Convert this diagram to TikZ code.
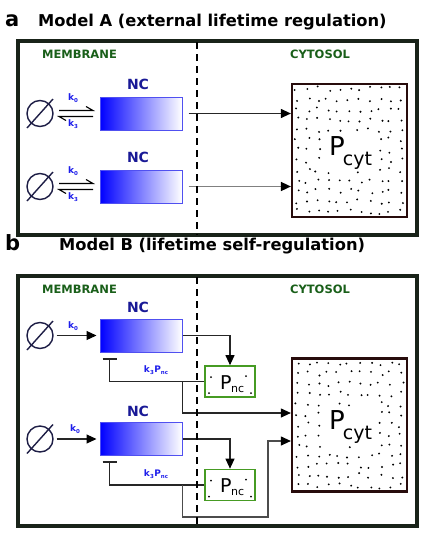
\documentclass[tikz,border=0pt]{standalone}
\usepackage{fontspec}
\setmainfont{DejaVu Sans}
\usetikzlibrary{arrows.meta,calc}
\definecolor{memgreen}{RGB}{25,95,25}
\definecolor{ncnavy}{RGB}{25,25,150}
\definecolor{ncedge}{RGB}{80,80,240}
\definecolor{kblue}{RGB}{30,30,235}
\definecolor{esetcol}{RGB}{30,30,70}
\definecolor{pncgreen}{RGB}{70,155,35}
\definecolor{pcytedge}{RGB}{40,12,12}
\definecolor{framecol}{RGB}{25,35,25}
\newcommand\ksub[2]{\textbf{#1}\raisebox{-0.45ex}{\fontsize{5.5}{5.5}\selectfont\bfseries #2}}
\newcommand\dotfield[3]{%
  \pgfmathsetseed{#3}%
  \foreach \i in {0,...,10}{%
    \foreach \j in {0,...,12}{%
      \pgfmathsetmacro\dx{5+\i*10.4+2.6*rand}%
      \pgfmathsetmacro\dy{5+\j*10.2+2.6*rand}%
      \pgfmathtruncatemacro\skipit{(\dx>34)*(\dx<82)*(\dy>47)*(\dy<88)}%
      \ifnum\skipit=0 \fill[black] (#1+\dx,#2+\dy) circle (1.05pt);\fi
    }}}
\tikzset{
  frame/.style={draw=framecol, line width=3.4pt},
  divider/.style={draw=black, line width=1.8pt, dash pattern=on 7pt off 5pt},
  region/.style={text=memgreen, font=\bfseries\fontsize{11.5}{11.5}\selectfont, inner sep=0},
  title/.style={anchor=base west, inner sep=0, font=\bfseries\fontsize{16.3}{16.3}\selectfont},
  panel/.style={anchor=base west, inner sep=0, font=\bfseries\fontsize{21}{21}\selectfont},
  ncbox/.style={draw=ncedge, line width=1pt, left color=blue, right color=white, minimum width=82pt, minimum height=33pt, inner sep=0},
  nclabel/.style={text=ncnavy, font=\bfseries\fontsize{14}{14}\selectfont, inner sep=0},
  eset/.style={circle, draw=esetcol, line width=1.4pt, minimum size=26pt, inner sep=0},
  slash/.style={draw=esetcol, line width=1.4pt},
  harp/.style={draw=black, line width=1.1pt},
  klab/.style={text=kblue, font=\fontsize{9}{9}\selectfont, inner sep=0},
  pcytbox/.style={draw=pcytedge, line width=2.2pt, minimum width=115pt, minimum height=133pt, inner sep=0},
  pncbox/.style={draw=pncgreen, line width=1.7pt, minimum width=50pt, minimum height=31pt, inner sep=0},
  conn/.style={draw=black!85, line width=1.1pt},
  tip/.style={-{Triangle[length=10pt,width=9pt,color=black]}},
  inh/.style={-{Bar[width=14pt,line width=2.4pt]}},
}
\begin{document}
\begin{tikzpicture}[x=1pt,y=-1pt]
\useasboundingbox (0,0) rectangle (436,536);
\fill[white] (0,0) rectangle (436,536);

% ---------------- Panel a ----------------
\node[panel] (pa) at (5,26) {a};
\node[title] (ta) at (38,26) {Model A (external lifetime regulation)};
\draw[frame] (18,41) rectangle (417,235);
\node[region] (mema) at (79.5,54) {MEMBRANE};
\node[region] (cyta) at (320,54) {CYTOSOL};

\node[pcytbox] (pcyta) at (349.5,150.5) {};
\dotfield{292}{84}{3}
\node[anchor=base west, inner sep=0] (pcyttxta) at (329,155) {\fontsize{26}{26}\selectfont P\kern-2pt\raisebox{-10pt}{\fontsize{19}{19}\selectfont cyt}};

\node[ncbox] (nca1) at (141,113.5) {};
\node[nclabel] (ncla1) at (138,84) {NC};
\node[eset] (ea1) at (40,113.5) {};
\draw[slash] (ea1.center) ++(-13,14.5) -- ++(26,-29);
\draw[harp] (ea1.center) ++(19,-3) -- ++(34,0) -- ++(-7,-4);
\draw[harp] (ea1.center) ++(53,3) -- ++(-34,0) -- ++(7,4);
\node[klab] (ka10) at (73,98.5) {\ksub{k}{0}};
\node[klab] (ka13) at (73,124.5) {\ksub{k}{3}};
\draw[conn,tip] ([xshift=6pt]nca1.east) -- (pcyta.west |- nca1.east);

\node[ncbox] (nca2) at (141,186.5) {};
\node[nclabel] (ncla2) at (138,157.5) {NC};
\node[eset] (ea2) at (40,186.5) {};
\draw[slash] (ea2.center) ++(-13,14.5) -- ++(26,-29);
\draw[harp] (ea2.center) ++(19,-3) -- ++(34,0) -- ++(-7,-4);
\draw[harp] (ea2.center) ++(53,3) -- ++(-34,0) -- ++(7,4);
\node[klab] (ka20) at (73,171.5) {\ksub{k}{0}};
\node[klab] (ka23) at (73,197.5) {\ksub{k}{3}};
\draw[draw=gray, line width=1.6pt, tip] ([xshift=6pt]nca2.east) -- (pcyta.west |- nca2.east);

\draw[divider] (197,42) -- (197,235);

% ---------------- Panel b ----------------
\node[panel] (pb) at (5,250) {b};
\node[title] (tb) at (59,250) {Model B (lifetime self-regulation)};
\draw[frame] (18,276) rectangle (417,526);
\node[region] (memb) at (79.5,289) {MEMBRANE};
\node[region] (cytb) at (320,289) {CYTOSOL};

\node[pcytbox] (pcytb) at (349.5,425) {};
\dotfield{292}{358.5}{11}
\node[anchor=base west, inner sep=0] (pcyttxtb) at (329,429.5) {\fontsize{26}{26}\selectfont P\kern-2pt\raisebox{-10pt}{\fontsize{19}{19}\selectfont cyt}};

% first NC
\node[ncbox] (ncb1) at (141,335.5) {};
\node[nclabel] (nclb1) at (138,307.5) {NC};
\node[eset] (eb1) at (40,335.5) {};
\draw[slash] (eb1.center) ++(-13,14.5) -- ++(26,-29);
\draw[conn,tip] ([xshift=3pt]eb1.east) -- ([xshift=-3pt]ncb1.west);
\node[klab] (kb10) at (73,326) {\ksub{k}{0}};
\node[pncbox] (pnc1) at (230,381.5) {};
\node[anchor=base west, inner sep=0] (pnctxt1) at (220,389) {\fontsize{19}{19}\selectfont P\kern-0.5pt\raisebox{-3pt}{\fontsize{11}{11}\selectfont nc}};
\foreach \p in {(211,377),(246,376),(209,393),(251,393)} \fill \p circle (1pt);
\draw[conn,tip] (ncb1.east) -| (pnc1.north);
\coordinate (inb1) at ($(ncb1.south west)+(10,5)$);
\draw[conn,inh] (pnc1.west) -| (inb1);
\node[klab] (kb13) at (156,370) {\ksub{k}{3}\kern0.5pt\ksub{P}{nc}};
\coordinate (br1) at ($(pnc1.west)+(-22,0)$);
\draw[conn,tip] (br1) |- ($(pcytb.west)+(0,-12)$);

% second NC
\node[ncbox] (ncb2) at (141,439) {};
\node[nclabel] (nclb2) at (138,411) {NC};
\node[eset] (eb2) at (40,439) {};
\draw[slash] (eb2.center) ++(-13,14.5) -- ++(26,-29);
\draw[conn,tip] ([xshift=3pt]eb2.east) -- ([xshift=-3pt]ncb2.west);
\node[klab] (kb20) at (75,429) {\ksub{k}{0}};
\node[pncbox] (pnc2) at (230,485) {};
\node[anchor=base west, inner sep=0] (pnctxt2) at (220,492.5) {\fontsize{19}{19}\selectfont P\kern-0.5pt\raisebox{-3pt}{\fontsize{11}{11}\selectfont nc}};
\foreach \p in {(211,480.5),(246,479.5),(209,496.5),(251,496.5)} \fill \p circle (1pt);
\draw[conn,tip] (ncb2.east) -| (pnc2.north);
\coordinate (inb2) at ($(ncb2.south west)+(10,5)$);
\draw[conn,inh] (pnc2.west) -| (inb2);
\node[klab] (kb23) at (156,474) {\ksub{k}{3}\kern0.5pt\ksub{P}{nc}};
\coordinate (br2) at ($(pnc2.west)+(-22,0)$);
\draw[draw=black!70, line width=1.1pt, tip] (br2) |- (268,517) |- ($(pcytb.west)+(0,16)$);

\draw[divider] (197,277) -- (197,526);
\end{tikzpicture}
\end{document}
